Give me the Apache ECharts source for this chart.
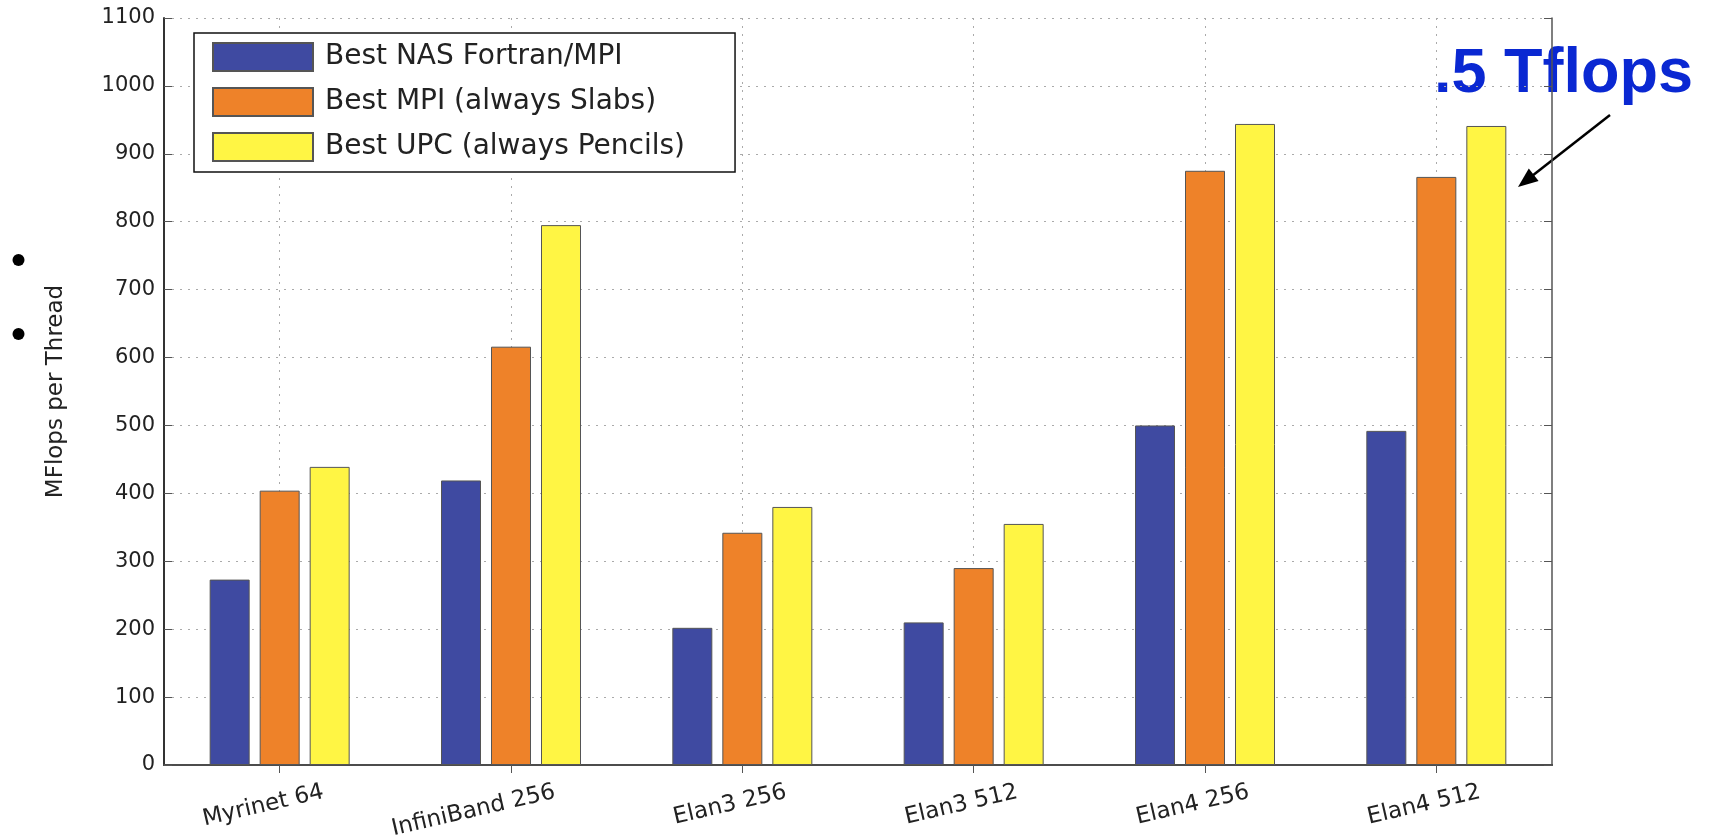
<!DOCTYPE html>
<html><head><meta charset="utf-8">
<script src="https://cdn.jsdelivr.net/npm/echarts@6/dist/echarts.min.js"></script>
<style>html,body{margin:0;padding:0;background:#fff}#c{width:1710px;height:836px}</style>
</head><body><div id="c"></div><script>
const categories = ['Myrinet 64', 'InfiniBand 256', 'Elan3 256', 'Elan3 512', 'Elan4 256', 'Elan4 512'];
const seriesNames = ['Best NAS Fortran/MPI', 'Best MPI (always Slabs)', 'Best UPC (always Pencils)'];
const nasFortranMPI = [273, 419, 202, 210, 500, 492];
const bestMPI = [404, 616, 342, 290, 875, 866];
const bestUPC = [439, 795, 380, 355, 944, 941];
const yMin = 0, yMax = 1100, yStep = 100;
const yTitle = 'MFlops per Thread';
const annotationText = '.5 Tflops';

const colors = ['#3f4aa1', '#ee8229', '#fff544'];
const FONT = 'DejaVu Sans';
const dotted = { type: [2, 6], color: '#aaaaaa', width: 1 };

const chart = echarts.init(document.getElementById('c'), null, { renderer: 'canvas' });
const mk = (name, data, i) => ({
  name, type: 'bar', data, barWidth: 40, barGap: '25%',
  itemStyle: { color: colors[i], borderColor: '#555', borderWidth: 1 },
  emphasis: { disabled: true }
});
chart.setOption({
  animation: false,
  backgroundColor: '#ffffff',
  grid: { left: 164, right: 158, top: 18, bottom: 71, containLabel: false, outerBoundsMode: 'none' },
  legend: {
    orient: 'vertical', left: 194, top: 33,
    data: seriesNames, icon: 'rect',
    itemWidth: 100, itemHeight: 28, itemGap: 15,
    padding: [9, 50, 10, 18],
    borderColor: '#111', borderWidth: 1.5, backgroundColor: '#fff',
    textStyle: { fontFamily: FONT, fontSize: 28, color: '#222', padding: [0, 0, 0, 7] }
  },
  xAxis: [
    { type: 'category', data: categories, position: 'bottom',
      axisLine: { lineStyle: { color: '#333', width: 2 } },
      axisTick: { show: true, inside: true, alignWithLabel: true, length: 8, lineStyle: { color: '#555' } },
      axisLabel: { interval: 0, rotate: 13, fontFamily: FONT, fontSize: 23, color: '#222', margin: 37,
                   padding: [0, -45, 0, 0] },
      splitLine: { show: true, alignWithLabel: true, lineStyle: dotted } },
    { type: 'category', data: categories, position: 'top',
      axisLine: { lineStyle: { color: '#555', width: 1.5 } },
      axisTick: { show: true, inside: true, alignWithLabel: true, length: 8, lineStyle: { color: '#555' } },
      axisLabel: { show: false }, splitLine: { show: false } }
  ],
  yAxis: [
    { type: 'value', min: yMin, max: yMax, interval: yStep,
      name: yTitle, nameLocation: 'middle', nameGap: 96,
      nameTextStyle: { fontFamily: FONT, fontSize: 23, color: '#222' },
      axisLine: { show: true, lineStyle: { color: '#333', width: 2 } },
      axisTick: { show: true, inside: true, length: 8, lineStyle: { color: '#555' } },
      axisLabel: { fontFamily: FONT, fontSize: 21, color: '#222', margin: 9, formatter: v => String(v) },
      splitLine: { show: true, lineStyle: dotted } },
    { type: 'value', min: yMin, max: yMax, interval: yStep, position: 'right',
      axisLine: { show: true, lineStyle: { color: '#555', width: 1.5 } },
      axisTick: { show: true, inside: true, length: 8, lineStyle: { color: '#555' } },
      axisLabel: { show: false }, splitLine: { show: false } }
  ],
  series: [mk(seriesNames[0], nasFortranMPI, 0), mk(seriesNames[1], bestMPI, 1), mk(seriesNames[2], bestUPC, 2)],
  graphic: [
    { type: 'text', x: 1434, y: 75, style: { text: annotationText, font: 'bold 63px "Liberation Sans"', fill: '#0a28d2', verticalAlign: 'middle' } },
    { type: 'line', shape: { x1: 1610, y1: 115, x2: 1532, y2: 176 }, style: { stroke: '#000', lineWidth: 2.5 } },
    { type: 'polygon', shape: { points: [[1518, 187], [1538.6, 181], [1528.8, 168.4]] }, style: { fill: '#000' } },
    { type: 'circle', shape: { cx: 18.5, cy: 260, r: 6 }, style: { fill: '#000' } },
    { type: 'circle', shape: { cx: 18.5, cy: 334, r: 6 }, style: { fill: '#000' } }
  ]
});
</script></body></html>
